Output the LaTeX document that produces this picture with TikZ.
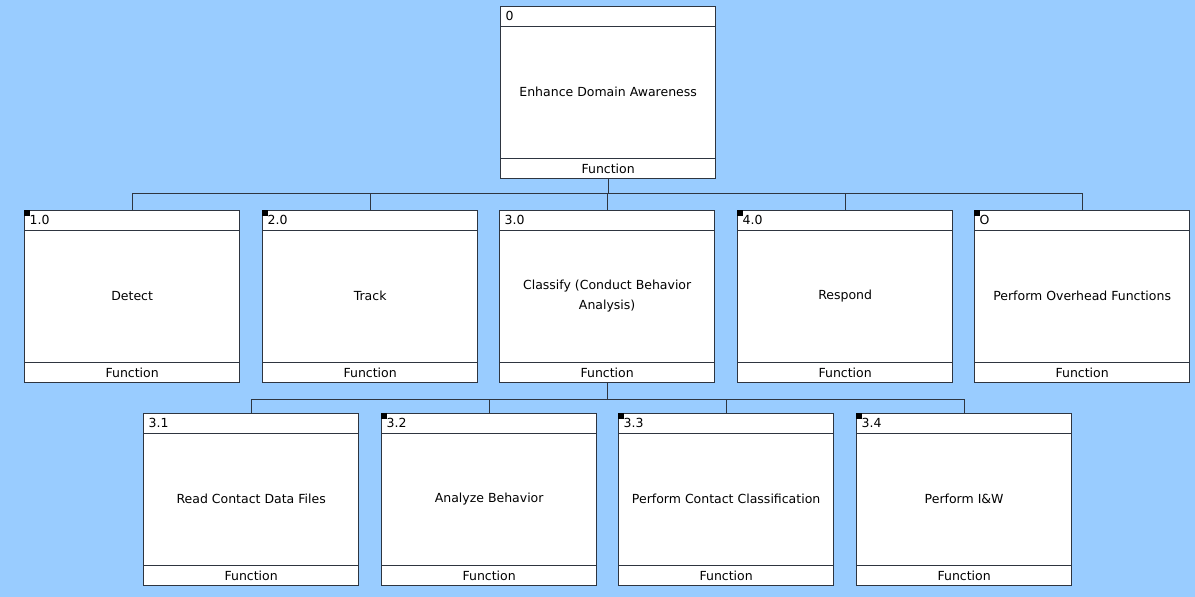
\documentclass[tikz,border=0pt]{standalone}
\usepackage{fontspec}
\setmainfont{DejaVu Sans}
\definecolor{bg}{HTML}{99CCFF}
\definecolor{ln}{HTML}{2E3540}
\tikzset{
  fbox/.style={draw=ln, line width=1.3pt, fill=white, minimum width=215pt, minimum height=172pt, inner sep=0pt, anchor=north west},
  sep/.style={draw=ln, line width=1.2pt},
  conn/.style={draw=ln, line width=1.2pt},
  txt/.style={font=\fontsize{12.5}{15}\selectfont, inner sep=0pt, text=black},
  mk/.style={fill=black, draw=none, minimum size=5.5pt, inner sep=0pt, anchor=north west}
}
\newcommand\fnbox[6]{%
  \node[fbox] (#1) at (#2,#3) {};
  \draw[sep] ([yshift=-20.5pt]#1.north west) -- ([yshift=-20.5pt]#1.north east);
  \draw[sep] ([yshift=21pt]#1.south west) -- ([yshift=21pt]#1.south east);
  \ifnum#6=1 \node[mk] (#1m) at (#1.north west) {};\fi
  \node[txt, anchor=west] (#1id) at ([xshift=5.5pt, yshift=-10pt]#1.north west) {#4};
  \node[txt] (#1ft) at ([yshift=10.5pt]#1.south) {Function};
  \node[txt, align=center] (#1t) at ([yshift=0.5pt]#1.center) {#5};
}
\begin{document}
\begin{tikzpicture}[x=1pt, y=-1pt]
\fill[bg] (0,0) rectangle (1195,597);
\useasboundingbox (0,0) rectangle (1195,597);
\fnbox{top}{500}{6}{0}{Enhance Domain Awareness}{0}
\fnbox{a}{24}{210}{1.0}{Detect}{1}
\fnbox{b}{262}{210}{2.0}{Track}{1}
\fnbox{c}{499}{210}{3.0}{Classify (Conduct Behavior\\[5pt]Analysis)}{0}
\fnbox{d}{737}{210}{4.0}{Respond}{1}
\fnbox{e}{974}{210}{O}{Perform Overhead Functions}{1}
\fnbox{c1}{143}{413}{3.1}{Read Contact Data Files}{0}
\fnbox{c2}{381}{413}{3.2}{Analyze Behavior}{1}
\fnbox{c3}{618}{413}{3.3}{Perform Contact Classification}{1}
\fnbox{c4}{856}{413}{3.4}{Perform I\&W}{1}
\draw[conn] (top.south) -- ++(0,14) coordinate (j1);
\foreach \n in {a,b,c,d,e} \draw[conn] (j1) -| (\n.north);
\draw[conn] (c.south) -- ++(0,16) coordinate (j2);
\foreach \n in {c1,c2,c3,c4} \draw[conn] (j2) -| (\n.north);
\end{tikzpicture}
\end{document}
